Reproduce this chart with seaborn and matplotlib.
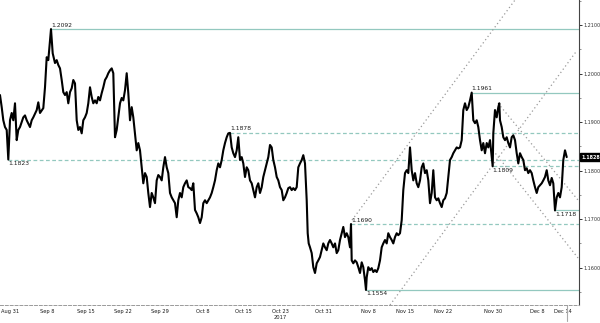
import matplotlib
matplotlib.use("Agg")
import matplotlib.pyplot as plt
import matplotlib.ticker as mticker
import numpy as np
import pandas as pd
import seaborn as sns

# ---- data (trading-time position, EUR/USD price) ----
t = [0, 1.7, 3.3, 5, 6.7, 8.3, 10, 11.7, 13.3, 15, 16.7, 18.3, 20, 23.3, 25, 26.7, 30, 31.7, 33.3, 36.7,
     38.3, 40, 43.3, 45, 46.7, 48.3, 50, 51, 52.7, 55, 56.7, 58.3, 60, 61.7, 63.3, 65, 66.7, 68.3, 70, 71.7,
     73.3, 75, 76.7, 78.3, 80, 81.7, 83.3, 85, 86.7, 88.3, 90, 91.7, 93.3, 95, 96.7, 98.3, 100, 101.7, 103.3, 105,
     106.7, 108.3, 110, 111.7, 113.3,
     115, 116.7, 118.3, 120, 121.7, 123.3, 125, 126.7, 128.3, 130, 131.7, 133.3, 135, 136.7, 138.3, 140, 141.7,
     143.3, 145, 146.7, 148.3, 150, 151.7, 153.3, 155, 156.7, 158.3, 160, 161.7, 163.3, 165, 166.7, 168.3, 170,
     171.7, 173.3, 175, 176.7, 178.3, 180, 181.7, 183.3, 185, 186.7, 188.3, 190, 191.7, 193.3, 195, 196.7, 198.3,
     200, 201.7, 203.3, 205, 206.7, 208.3, 210, 211.7, 213.3, 215, 216.7, 218.3, 220, 221.7, 223.3, 225, 226.7, 228.3,
     230, 231.7, 233.3, 235, 236.7, 238.3, 240, 241.7, 243.3, 245, 246.7, 248.3, 250, 251.7, 253.3, 255, 256.7,
     258.3, 260, 261.7, 263.3, 265, 266.7, 268.3, 270, 271.7, 273.3, 275, 276.7, 278.3, 280, 281.7, 283.3, 285,
     286.7, 288.3, 290, 291.7, 293.3, 295, 296.7, 298.3, 300, 301.7, 303.3, 305, 306.7, 307.7, 308.7, 310, 311.7,
     313.3, 315, 316.7, 318.3, 320, 321.7, 323.3, 325, 326.7, 328.3, 330, 331.7, 333.3, 335, 336.7, 338.3, 340,
     341.7, 343.3,
     345, 346.7, 348.3, 350, 351, 351.7, 353.3, 355, 356.7, 358.3, 360, 361.7, 363.3, 365, 366, 366.7, 368.3, 370,
     371.7, 373.3, 375, 376.7, 378.3, 380, 381.7, 383.3, 385, 386.7, 388.3, 390, 391.7, 393.3, 395, 396.7, 398.3,
     400, 401.7, 403.3, 405, 406.7, 408.3, 410, 411.7, 413.3, 415, 416.7, 418.3, 420, 421.7, 423.3, 425, 426.7,
     428.3, 430, 431.7, 433.3, 435, 436.7, 438.3, 440, 441.7, 443.3, 445, 446.7, 448.3, 450, 451.7, 453.3, 455,
     456.7, 458.3,
     460, 461.7, 463.3, 465, 466.7, 468.3, 470, 471.7, 473.3, 475, 476.7, 478.3, 480, 481.7, 483.3, 485, 486.7,
     488.3, 490, 491.7, 492.7, 493.3, 495, 496.7, 498.3, 499.3, 500, 501.7, 503.3, 505, 506.7, 508.3, 510, 511.7,
     513.3, 515, 516.7, 518.3, 520, 521.7, 523.3, 525, 526.7, 528.3, 530, 531.7, 533.3, 535, 536.7, 538.3, 540,
     541.7, 543.3, 545, 546.7, 548.3, 550, 551.7, 553.3, 555, 556.7, 558.3, 560, 561.7, 563.3, 565, 566.7]

price = [1.1956, 1.1931, 1.1904, 1.1890, 1.1884, 1.1823, 1.1904, 1.1919, 1.1904, 1.1939, 1.1863, 1.1884, 1.1890,
         1.1910, 1.1914, 1.1904, 1.1890, 1.1904, 1.1910, 1.1925, 1.1941, 1.1919, 1.1929, 1.1972, 1.2034, 1.2028,
         1.2069, 1.2092, 1.2042, 1.2022, 1.2028, 1.2018, 1.2011, 1.1987, 1.1962, 1.1956, 1.1962, 1.1939, 1.1962,
         1.1970, 1.1987, 1.1980, 1.1904, 1.1884, 1.1890, 1.1877, 1.1904, 1.1910, 1.1919, 1.1939, 1.1972, 1.1952,
         1.1939, 1.1945, 1.1939, 1.1952, 1.1945, 1.1960, 1.1972, 1.1987, 1.1993, 1.2001, 1.2007, 1.2011, 1.2001,
         1.1869, 1.1884, 1.1910, 1.1939, 1.1950, 1.1945, 1.1966, 1.2001, 1.1960, 1.1904, 1.1931, 1.1910, 1.1877,
         1.1842, 1.1857, 1.1842, 1.1807, 1.1774, 1.1795, 1.1787, 1.1754, 1.1725, 1.1754, 1.1745, 1.1733, 1.1780,
         1.1791, 1.1787, 1.1780, 1.1807, 1.1828, 1.1807, 1.1795, 1.1754, 1.1745, 1.1739, 1.1733, 1.1704, 1.1739,
         1.1754, 1.1745, 1.1766, 1.1774, 1.1780, 1.1766, 1.1764, 1.1760, 1.1774, 1.1719, 1.1712, 1.1704, 1.1692,
         1.1704, 1.1733, 1.1739, 1.1733, 1.1739, 1.1745, 1.1754, 1.1766, 1.1780, 1.1801, 1.1815, 1.1807, 1.1822,
         1.1842, 1.1857, 1.1869, 1.1877,
         1.1878, 1.1848, 1.1836, 1.1828, 1.1842, 1.1869, 1.1822, 1.1828, 1.1815, 1.1787, 1.1807, 1.1801, 1.1780,
         1.1774, 1.1760, 1.1745, 1.1766, 1.1774, 1.1754, 1.1766, 1.1787, 1.1801, 1.1815, 1.1828, 1.1853, 1.1848,
         1.1822, 1.1807, 1.1787, 1.1780, 1.1766, 1.1760, 1.1739, 1.1745, 1.1754, 1.1764, 1.1766, 1.1760, 1.1764,
         1.1760, 1.1766, 1.1807, 1.1815, 1.1822, 1.1832, 1.1815, 1.1739, 1.1671, 1.1650, 1.1642, 1.1630, 1.1601,
         1.1589, 1.1609, 1.1615, 1.1622, 1.1636, 1.1650, 1.1642, 1.1636, 1.1650, 1.1657, 1.1650, 1.1642, 1.1650,
         1.1630, 1.1636, 1.1657, 1.1671, 1.1684,
         1.1663, 1.1671, 1.1663, 1.1642, 1.1690, 1.1615, 1.1609, 1.1615, 1.1611, 1.1601, 1.1589, 1.1611, 1.1601,
         1.1574, 1.1554, 1.1580, 1.1601, 1.1595, 1.1599, 1.1591, 1.1595, 1.1591, 1.1599, 1.1615, 1.1642, 1.1650,
         1.1657, 1.1650, 1.1671, 1.1663, 1.1657, 1.1650, 1.1663, 1.1671, 1.1667, 1.1671, 1.1698, 1.1760, 1.1795,
         1.1801, 1.1795, 1.1848, 1.1801, 1.1780, 1.1795, 1.1774, 1.1766, 1.1780, 1.1807, 1.1815, 1.1795, 1.1801,
         1.1780, 1.1733, 1.1754, 1.1801, 1.1745, 1.1739, 1.1743, 1.1733, 1.1725, 1.1739, 1.1743, 1.1754, 1.1787,
         1.1822, 1.1828, 1.1836, 1.1842, 1.1848, 1.1846,
         1.1848, 1.1863, 1.1925, 1.1939, 1.1925, 1.1931, 1.1945, 1.1961, 1.1904, 1.1898, 1.1904, 1.1890, 1.1863,
         1.1842, 1.1857, 1.1836, 1.1857, 1.1848, 1.1863, 1.1828, 1.1809, 1.1877, 1.1925, 1.1910, 1.1931, 1.1939,
         1.1904, 1.1890, 1.1869, 1.1863, 1.1869, 1.1857, 1.1848, 1.1869, 1.1873, 1.1863, 1.1836, 1.1815, 1.1836,
         1.1828, 1.1822, 1.1801, 1.1805, 1.1795, 1.1801, 1.1795, 1.1780, 1.1766, 1.1754, 1.1766, 1.1770, 1.1774,
         1.1780, 1.1787, 1.1801, 1.1780, 1.1770, 1.1785, 1.1774, 1.1718, 1.1745, 1.1754, 1.1745, 1.1766, 1.1822,
         1.1842, 1.1828]

# x tick labels and their positions on the trading-time axis
date_labels = ["Aug 31", "Sep 8", "Sep 15", "Sep 22", "Sep 29", "Oct 8", "Oct 15", "Oct 23\n2017",
               "Oct 31", "Nov 8", "Nov 15", "Nov 22", "Nov 30", "Dec 8", "Dec 14"]
date_pos = [10, 47, 86, 123, 160, 203, 243, 280, 323, 368, 405, 443, 493, 537, 563]

# key levels: value, start position, dashed?, label above?
levels = [1.2092, 1.1961, 1.1878, 1.1823, 1.1809, 1.1718, 1.1690, 1.1554]
level_start = [51, 471.7, 230, 8.3, 492.7, 555, 351, 366]
level_dashed = [False, False, True, True, True, False, True, False]
level_above = [True, True, True, False, False, False, True, False]

# trend channel lines: (t0, p0, t1, p1)
trend_lines = [(352, 1.1698, 515, 1.2152),
               (390, 1.1523, 577, 1.2048),
               (498, 1.1939, 579, 1.1737),
               (493, 1.1842, 578, 1.1620)]

last_price = 1.1828
y_ticks = [1.1600, 1.1700, 1.1800, 1.1900, 1.2000, 1.2100]

# ---- plotting ----
sns.set_style("white")
plt.rcParams['font.family'] = ['DejaVu Sans']

fig = plt.figure(figsize=(6.0, 3.23), dpi=100)
ax = fig.add_axes([0.0, 18 / 323, 579 / 600, 305 / 323])

df = pd.DataFrame({"t": t, "price": price})
sns.lineplot(data=df, x="t", y="price", color="black", linewidth=1.5, ax=ax, sort=False)

xmax = 579
ax.set_xlim(0, xmax)
ax.set_ylim(1.1523, 1.2152)

lvl_color = "#93c8bf"
for v, s, d, above in zip(levels, level_start, level_dashed, level_above):
    ax.plot([s, xmax], [v, v], color=lvl_color, lw=0.9,
            linestyle=(0, (3, 2)) if d else "-", zorder=1)
    ax.text(s, v + (0.0003 if above else -0.0003), f"{v:.4f}", fontsize=4.3,
            color="#1a1a1a", ha="left", va="bottom" if above else "top")

for x0, y0, x1, y1 in trend_lines:
    ax.plot([x0, x1], [y0, y1], color="#9a9a9a", lw=0.9, linestyle=(0, (1, 2.2)), zorder=1)

# axes styling
for side in ["left", "top"]:
    ax.spines[side].set_visible(False)
ax.spines["right"].set_color("#444444")
ax.spines["right"].set_linewidth(0.8)
ax.spines["bottom"].set_color("#9a9a9a")
ax.spines["bottom"].set_linewidth(0.7)
ax.spines["bottom"].set_linestyle((0, (3, 2)))

ax.yaxis.tick_right()
ax.set_yticks(y_ticks)
ax.yaxis.set_major_formatter(mticker.FormatStrFormatter("%.4f"))
ax.yaxis.set_minor_locator(mticker.MultipleLocator(0.005))
ax.tick_params(axis="y", which="major", direction="out", length=2, width=0.7,
               colors="#333333", labelsize=3.5, pad=1)
ax.tick_params(axis="y", which="minor", direction="out", length=1.5, width=0.5, colors="#666666")
ax.set_xticks(date_pos)
ax.set_xticklabels(date_labels)
ax.tick_params(axis="x", which="major", direction="out", length=1.5, width=0.5,
               colors="#555555", labelsize=3.7, pad=1.5, labelcolor="#1a1a1a")
ax.set_xlabel("")
ax.set_ylabel("")

# last-price tag on the right axis
ax.annotate(f"{last_price:.4f}", xy=(1.0, last_price), xycoords=("axes fraction", "data"),
            xytext=(1.5, 0), textcoords="offset points", ha="left", va="center",
            fontsize=3.5, color="white", fontweight="bold",
            bbox=dict(boxstyle="square,pad=0.25", fc="black", ec="black"))

# current-bar marker below the axis
ax.plot([t[-1], t[-1]], [1.1523, 1.1490], color="#aaaaaa", lw=0.8, clip_on=False)

fig.savefig("out.png", dpi=100, facecolor="white")
